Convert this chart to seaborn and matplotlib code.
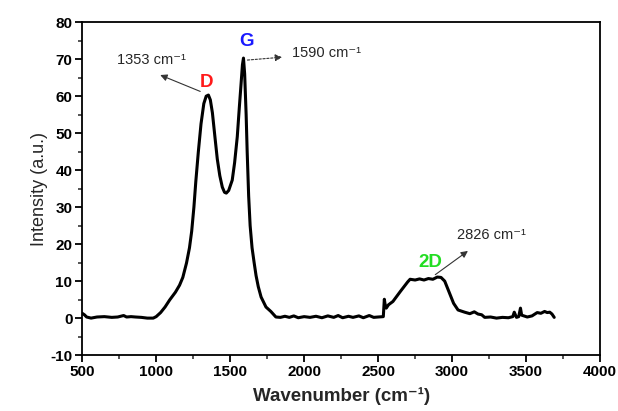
import numpy as np
import pandas as pd
import matplotlib
matplotlib.use("Agg")
import matplotlib.pyplot as plt
from matplotlib.ticker import MultipleLocator
import seaborn as sns

# Raman spectrum (wavenumber in cm^-1, intensity in a.u.)
wavenumber = [
    500, 515, 530, 560, 600, 650, 700, 740, 780, 800, 830, 860, 900, 940, 980,
    1000, 1030, 1060, 1091, 1130, 1158, 1180, 1205, 1225, 1240, 1255, 1268,
    1285, 1303, 1322, 1338, 1353, 1366, 1380, 1397, 1413, 1430, 1447, 1462,
    1474, 1490, 1514, 1530, 1548, 1562, 1574, 1583, 1590, 1598, 1608, 1615,
    1625, 1635, 1648, 1662, 1675, 1690, 1709, 1742, 1775, 1809, 1840, 1870,
    1900, 1930, 1960, 2000, 2040, 2080, 2120, 2160, 2200, 2230, 2260, 2300,
    2330, 2370, 2400, 2440, 2470, 2500, 2535, 2542, 2548, 2555, 2570, 2600,
    2650, 2700, 2716, 2750, 2780, 2810, 2840, 2870, 2900, 2925, 2950, 2980,
    3010, 3040, 3085, 3120, 3150, 3175, 3200, 3220, 3260, 3300, 3340, 3380,
    3410, 3420, 3435, 3450, 3462, 3470, 3485, 3508, 3540, 3575, 3600, 3625,
    3643, 3660, 3675, 3690,
]
intensity = [
    1.3, 0.9, 0.3, 0.0, 0.3, 0.4, 0.2, 0.3, 0.7, 0.3, 0.4, 0.3, 0.2, 0.0, 0.0,
    0.4, 1.5, 3.0, 4.9, 7.0, 8.9, 11.0, 14.9, 19.0, 23.5, 30.0, 37.0,
    45.0, 52.5, 58.0, 60.0, 60.3, 59.0, 55.5, 49.0, 43.0, 38.5, 35.4, 34.0,
    33.8, 34.5, 37.3, 42.0, 49.0, 57.0, 63.5, 68.5, 70.3, 66.0, 55.0, 45.0,
    33.0, 25.0, 19.0, 15.0, 11.5, 8.5, 5.7, 3.0, 1.8, 0.3, 0.2, 0.5,
    0.2, 0.6, 0.1, 0.4, 0.2, 0.5, 0.1, 0.6, 0.2, 0.7, 0.1, 0.5,
    0.2, 0.6, 0.1, 0.7, 0.2, 0.3, 0.4, 5.1, 3.5, 2.7, 3.6, 4.5,
    7.2, 9.8, 10.5, 10.3, 10.6, 10.3, 10.7, 10.5, 11.1, 11.0, 10.0, 7.0,
    4.0, 2.2, 1.6, 1.2, 1.7, 1.1, 0.9, 0.2, 0.3, 0.0, 0.2, 0.1,
    0.4, 1.6, 0.2, 0.4, 2.7, 0.8, 0.6, 0.3, 0.6, 1.5, 1.3, 1.8,
    1.5, 1.6, 1.1, 0.2,
]

# Band names, their colours and the peak positions written beside them
bands = ["D", "G", "2D"]
band_colors = ["#ff1a1a", "#1a1aff", "#22dd22"]
peak_labels = ["1353 cm\u207b\u00b9", "1590 cm\u207b\u00b9", "2826 cm\u207b\u00b9"]

df = pd.DataFrame({"Wavenumber": wavenumber, "Intensity": intensity})

sns.set_theme(style="ticks")
plt.rcParams["font.family"] = ["Liberation Sans", "DejaVu Sans"]
plt.rcParams["axes.unicode_minus"] = False

fig = plt.figure(figsize=(6.18, 4.11), dpi=100)
ax = fig.add_axes([0.133, 0.136, 0.838, 0.81])

sns.lineplot(data=df, x="Wavenumber", y="Intensity", color="black",
             linewidth=2.2, ax=ax)

ax.set_xlim(500, 4000)
ax.set_ylim(-10, 80)
ax.xaxis.set_major_locator(MultipleLocator(500))
ax.xaxis.set_minor_locator(MultipleLocator(250))
ax.yaxis.set_major_locator(MultipleLocator(10))
ax.yaxis.set_minor_locator(MultipleLocator(5))

for side in ["top", "right", "bottom", "left"]:
    ax.spines[side].set_linewidth(1.3)
    ax.spines[side].set_color("black")
ax.tick_params(which="major", direction="out", length=5, width=1.3,
               labelsize=11, pad=2, colors="black")
ax.tick_params(which="minor", direction="out", length=3, width=1.1)
for lab in ax.get_xticklabels() + ax.get_yticklabels():
    lab.set_fontweight("bold")

ax.set_xlabel("Wavenumber (cm\u207b\u00b9)", fontsize=13.5,
              fontweight="bold", labelpad=6)
ax.set_ylabel("Intensity (a.u.)", fontsize=13, labelpad=2)

# D band
ax.annotate("", xy=(1010, 66.0), xytext=(1315, 61.0),
            arrowprops=dict(arrowstyle="-|>", color="#333333", lw=0.8,
                            mutation_scale=10))
ax.text(735, 69.7, peak_labels[0], fontsize=10.5, va="center", ha="left")
ax.text(1340, 63.8, bands[0], color=band_colors[0], fontsize=13.5,
        fontweight="bold", ha="center", va="center")

# G band
ax.annotate("", xy=(1870, 70.6), xytext=(1598, 69.7),
            arrowprops=dict(arrowstyle="-|>", color="#333333", lw=0.8,
                            linestyle=(0, (2, 1.5)), mutation_scale=10))
ax.text(1915, 71.6, peak_labels[1], fontsize=10.5, va="center", ha="left")
ax.text(1608, 74.8, bands[1], color=band_colors[1], fontsize=13.5,
        fontweight="bold", ha="center", va="center")

# 2D band
ax.annotate("", xy=(3122, 18.6), xytext=(2871, 11.3),
            arrowprops=dict(arrowstyle="-|>", color="#333333", lw=0.8,
                            mutation_scale=10))
ax.text(3032, 22.4, peak_labels[2], fontsize=10.5, va="center", ha="left")
ax.text(2850, 14.9, bands[2], color=band_colors[2], fontsize=13.5,
        fontweight="bold", ha="center", va="center")

fig.savefig("out.png", dpi=100)
